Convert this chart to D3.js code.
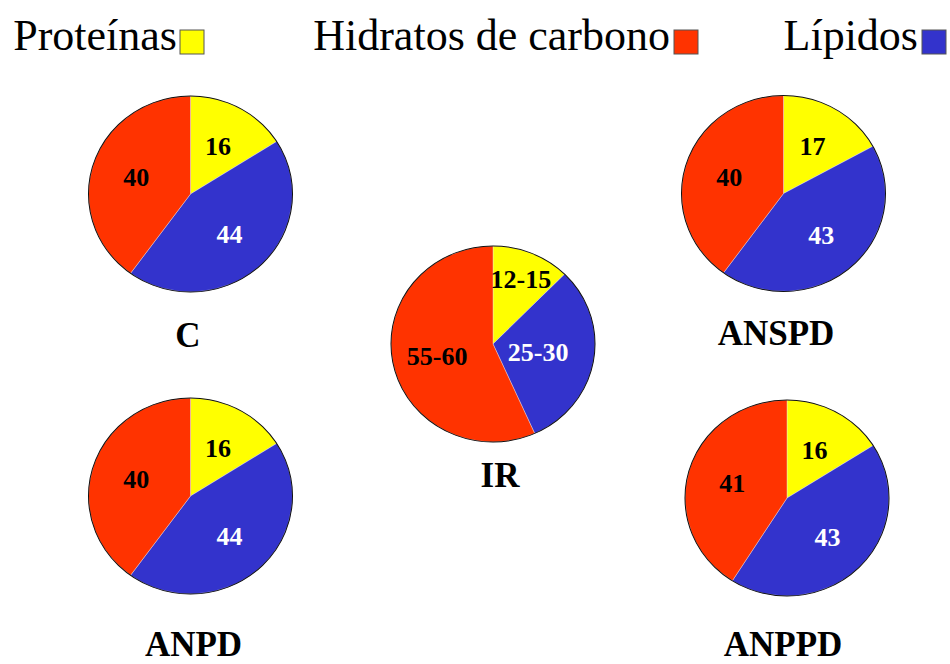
<!DOCTYPE html>
<html>
<head>
<meta charset="utf-8">
<script src="https://cdn.jsdelivr.net/npm/d3@7/dist/d3.min.js"></script>
<style>
  html, body { margin: 0; padding: 0; background: #ffffff; overflow: hidden; }
  svg { display: block; }
</style>
</head>
<body>
<svg id="chart" width="950" height="664"></svg>
<script>
// ---- data ----
const categories = ["Proteínas", "Hidratos de carbono", "Lípidos"];
const groups = ["C", "ANSPD", "IR", "ANPD", "ANPPD"];
const proteinas = [16, 17, 12, 16, 16];
const hidratos = [40, 40, 55, 40, 41];
const lipidos = [44, 43, 30, 44, 43];
const proteinasLabels = ["16", "17", "12-15", "16", "16"];
const hidratosLabels = ["40", "40", "55-60", "40", "41"];
const lipidosLabels = ["44", "43", "25-30", "44", "43"];

// ---- styling / layout ----
const colors = { "Proteínas": "#FFFF00", "Hidratos de carbono": "#FF3300", "Lípidos": "#3333CC" };
const labelColors = { "Proteínas": "#000000", "Hidratos de carbono": "#000000", "Lípidos": "#ffffff" };
const layout = {
  "C":     { cx: 190.5, cy: 194, nx: 188,   ny: 347 },
  "ANSPD": { cx: 783.5, cy: 193.5, nx: 776, ny: 345 },
  "IR":    { cx: 493,   cy: 344, nx: 500,   ny: 487 },
  "ANPD":  { cx: 190.5, cy: 496, nx: 193.5, ny: 656 },
  "ANPPD": { cx: 787,   cy: 498, nx: 783,   ny: 656 }
};
const R = 100, sx = 1.02, sy = 0.98;
const serif = "'Liberation Serif', 'Times New Roman', Times, serif";

const svg = d3.select("#chart");

// legend
const legendPos = [
  { textEnd: 177, box: 180 },
  { textEnd: 670, box: 674 },
  { textEnd: 918, box: 922 }
];
const legend = svg.append("g");
categories.forEach((c, i) => {
  legend.append("text")
    .attr("x", legendPos[i].textEnd).attr("y", 50)
    .attr("text-anchor", "end")
    .attr("font-family", serif).attr("font-size", 44)
    .attr("fill", "#000")
    .text(c);
  legend.append("rect")
    .attr("x", legendPos[i].box).attr("y", 30)
    .attr("width", 24).attr("height", 24)
    .attr("fill", colors[c])
    .attr("stroke", "#555").attr("stroke-width", 1);
});

// pies
const pie = d3.pie().sort(null).value(d => d.value);
const arc = d3.arc().innerRadius(0).outerRadius(R);

function labelRadius(frac) {
  if (frac < 0.14) return 0.72 * R;
  if (frac >= 0.25 && frac < 0.35) return 0.45 * R;
  return 0.56 * R;
}

groups.forEach((g, i) => {
  const slices = [
    { cat: "Proteínas", value: proteinas[i], label: proteinasLabels[i] },
    { cat: "Lípidos", value: lipidos[i], label: lipidosLabels[i] },
    { cat: "Hidratos de carbono", value: hidratos[i], label: hidratosLabels[i] }
  ];
  const total = d3.sum(slices, d => d.value);
  const L = layout[g];
  const gp = svg.append("g").attr("transform", `translate(${L.cx},${L.cy})`);
  const shapes = gp.append("g").attr("transform", `scale(${sx},${sy})`);
  const arcs = pie(slices);
  shapes.selectAll("path.slice").data(arcs).enter().append("path")
    .attr("class", "slice")
    .attr("d", arc)
    .attr("fill", d => colors[d.data.cat])
    .attr("stroke", "#e8e8f0").attr("stroke-width", 0.4);
  shapes.append("circle")
    .attr("r", R).attr("fill", "none")
    .attr("stroke", "#111").attr("stroke-width", 1);

  gp.selectAll("text.val").data(arcs).enter().append("text")
    .attr("class", "val")
    .attr("transform", d => {
      const rr = labelRadius(d.data.value / total);
      const a = (d.startAngle + d.endAngle) / 2;
      return `translate(${Math.sin(a) * rr * sx},${-Math.cos(a) * rr * sy})`;
    })
    .attr("text-anchor", "middle")
    .attr("dy", "0.35em")
    .attr("font-family", serif).attr("font-weight", "bold").attr("font-size", 26)
    .attr("fill", d => labelColors[d.data.cat])
    .text(d => d.data.label);

  svg.append("text")
    .attr("x", L.nx).attr("y", L.ny)
    .attr("text-anchor", "middle")
    .attr("font-family", serif).attr("font-weight", "bold").attr("font-size", 35)
    .attr("fill", "#000")
    .text(g);
});
</script>
</body>
</html>
